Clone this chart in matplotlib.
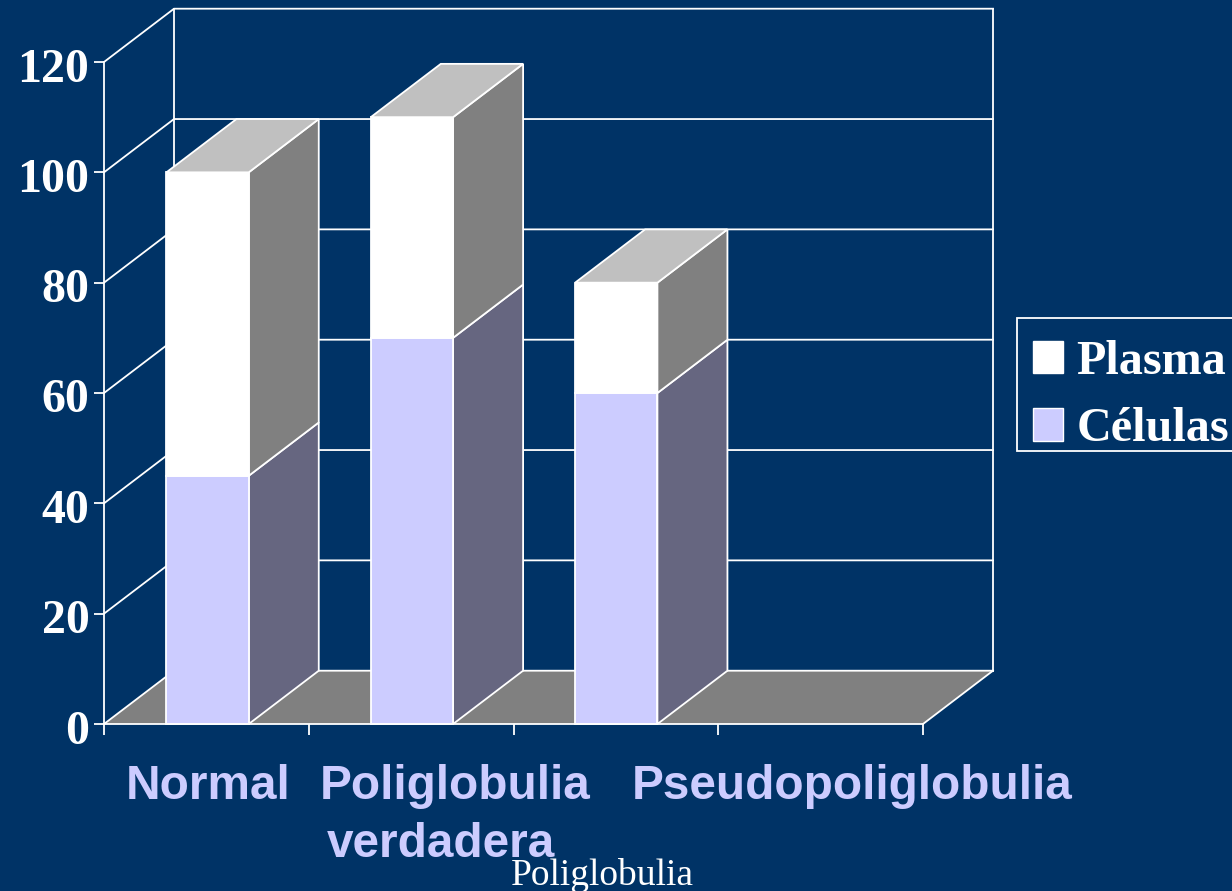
import matplotlib
matplotlib.use('Agg')
from matplotlib import pyplot as plt
from matplotlib.patches import Polygon, Patch, Rectangle
from matplotlib.transforms import ScaledTranslation

cats = ['Normal', 'Poliglobulia', 'Pseudopoliglobulia']
celulas = [45, 70, 60]
plasma = [55, 40, 20]
yticks = [0, 20, 40, 60, 80, 100, 120]
nslots = 4

bg = '#003366'
lila = '#CCCCFF'
serif = 'Liberation Serif'
sans = 'Liberation Sans'

# depth of the 3d box in data units
dx = 70 / 204.75
dy = 53.3 / 5.517
bw = 0.402

fig = plt.figure(figsize=(12.32, 8.91), dpi=100, facecolor=bg)
ax = fig.add_axes([104 / 1232, 167 / 891, 819 / 1232, 662 / 891], facecolor='none')
ax.set_xlim(0, nslots)
ax.set_ylim(0, 120)


def poly(pts, fc, ec='white', z=2, lw=1.3):
    ax.add_patch(Polygon(pts, closed=True, facecolor=fc, edgecolor=ec, linewidth=lw, zorder=z, clip_on=False))


def line(xs, ys, z=1):
    ax.plot(xs, ys, color='white', lw=1.3, zorder=z, clip_on=False, solid_capstyle='projecting')


# floor
poly([(0, 0), (nslots, 0), (nslots + dx, dy), (dx, dy)], '#808080', ec='none', z=1)
line([nslots, nslots + dx], [0, dy])

# walls
for v in yticks:
    line([0, dx, nslots + dx], [v, v + dy, v + dy])
line([dx, dx], [dy, 120 + dy])
line([nslots + dx, nslots + dx], [dy, 120 + dy])


def bar(x, y0, y1, front, side):
    x1 = x + bw
    poly([(x1, y0), (x1 + dx, y0 + dy), (x1 + dx, y1 + dy), (x1, y1)], side, z=3)
    poly([(x, y0), (x1, y0), (x1, y1), (x, y1)], front, z=4)


for i in range(len(cats)):
    x = i + 0.305 - i * 0.002
    bar(x, 0, celulas[i], lila, '#666680')
    top = celulas[i] + plasma[i]
    bar(x, celulas[i], top, 'white', '#808080')
    poly([(x, top), (x + bw, top), (x + bw + dx, top + dy), (x + dx, top + dy)], '#C0C0C0', z=5)

ax.spines['top'].set_visible(False)
ax.spines['right'].set_visible(False)
for s in ['left', 'bottom']:
    ax.spines[s].set_color('white')
    ax.spines[s].set_linewidth(1.3)
    ax.spines[s].set_zorder(6)

ax.set_yticks(yticks)
ax.set_yticklabels(yticks, fontfamily=serif, fontweight='bold', fontsize=34.5, color='white')
ax.tick_params(axis='y', color='white', length=7, width=1.3, pad=3.5)
ax.set_xticks(range(nslots + 1))
ax.set_xticklabels([])
ax.tick_params(axis='x', color='white', length=8, width=1.3)

# tick labels sit a bit lower than their ticks
shift = ScaledTranslation(0, -2.5 / 100, fig.dpi_scale_trans)
for lb in ax.get_yticklabels():
    lb.set_transform(lb.get_transform() + shift)

# category labels
kw = dict(fontfamily=sans, fontweight='bold', fontsize=34.4, color=lila, ha='center', va='baseline', clip_on=False)
ax.text(0.51, -13.6, cats[0], **kw)
ax.text(1.714, -13.6, cats[1], **kw)
ax.text(1.648, -24.1, 'verdadera', **kw)
ax.text(3.655, -13.6, cats[2], **kw)

ax.text(2.436, -29.1, 'Poliglobulia', fontfamily=serif, fontsize=27, color='white', ha='center', va='baseline')

# legend box runs off the right edge
fig.add_artist(Rectangle((1017 / 1232, 1 - 451 / 891), 230 / 1232, 133 / 891, transform=fig.transFigure,
                         facecolor=bg, edgecolor='white', linewidth=1.3))
handles = [Patch(facecolor='white', edgecolor='white'), Patch(facecolor=lila, edgecolor='white')]
leg = fig.legend(handles, ['Plasma', 'Células'], loc='upper left', bbox_to_anchor=(1016 / 1232, 1 - 323 / 891),
                 bbox_transform=fig.transFigure, borderaxespad=0, frameon=False, handlelength=0.63, handleheight=0.66,
                 handletextpad=0.27, borderpad=0.35, labelspacing=0.49,
                 prop={'family': serif, 'weight': 'bold', 'size': 34.7})
for t in leg.get_texts():
    t.set_color('white')

fig.savefig('out.png', dpi=100, facecolor=bg)
